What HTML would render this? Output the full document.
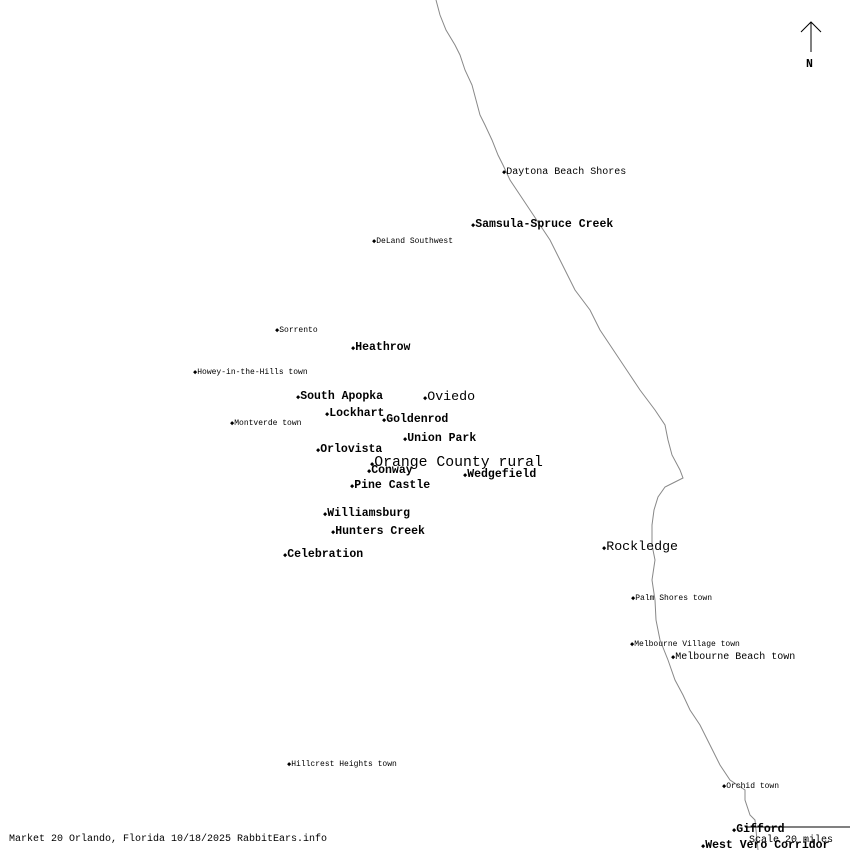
<!DOCTYPE html>
<html><head><meta charset="utf-8"><style>
html,body{margin:0;padding:0;background:#fff;}
svg{display:block}
text{font-family:"Liberation Mono","DejaVu Sans Mono",monospace;fill:#000}
.b{font-weight:bold;font-size:11.5px}
.s{font-size:8px}
.m{font-size:10px}
.l{font-size:13.3px}
.x{font-size:14.8px}
.d{font-size:7px;font-weight:normal}
</style></head><body>
<svg width="850" height="850" viewBox="0 0 850 850" xmlns="http://www.w3.org/2000/svg">
<polyline fill="none" stroke="#888" stroke-width="1" points="436,0 440,15 446,30 455,45 460,55 465,70 472,85 476,100 480,115 485,125 492,140 498,155 503,165 510,180 520,195 530,210 540,225 550,240 560,260 575,290 590,310 600,330 610,345 620,360 630,375 640,390 655,410 665,425 668,440 672,455 680,470 683,478 675,482 665,487 658,497 654,510 652,525 652,545 655,560 652,580 655,600 656,620 660,640 668,660 675,680 683,695 690,710 700,725 710,745 720,765 730,780 745,790 745,800 750,815 755,820 758,850"/>
<line x1="811" y1="22" x2="811" y2="52" stroke="#000"/>
<polyline points="801,32 811,22 821,32" fill="none" stroke="#000"/>
<text x="806" y="67" class="b">N</text>
<line x1="745" y1="827" x2="850" y2="827" stroke="#000"/>
<g>
<text x="502" y="174" class="m"><tspan class="d">◆</tspan>Daytona Beach Shores</text>
<text x="471" y="227" class="b"><tspan class="d">◆</tspan>Samsula-Spruce Creek</text>
<text x="372" y="243" class="s"><tspan class="d">◆</tspan>DeLand Southwest</text>
<text x="275" y="332" class="s"><tspan class="d">◆</tspan>Sorrento</text>
<text x="351" y="350" class="b"><tspan class="d">◆</tspan>Heathrow</text>
<text x="193" y="374" class="s"><tspan class="d">◆</tspan>Howey-in-the-Hills town</text>
<text x="296" y="399" class="b"><tspan class="d">◆</tspan>South Apopka</text>
<text x="423" y="400" class="l"><tspan class="d">◆</tspan>Oviedo</text>
<text x="325" y="416" class="b"><tspan class="d">◆</tspan>Lockhart</text>
<text x="382" y="422" class="b"><tspan class="d">◆</tspan>Goldenrod</text>
<text x="230" y="425" class="s"><tspan class="d">◆</tspan>Montverde town</text>
<text x="403" y="441" class="b"><tspan class="d">◆</tspan>Union Park</text>
<text x="316" y="452" class="b"><tspan class="d">◆</tspan>Orlovista</text>
<text x="370" y="466" class="x"><tspan class="d">◆</tspan>Orange County rural</text>
<text x="367" y="473" class="b"><tspan class="d">◆</tspan>Conway</text>
<text x="463" y="477" class="b"><tspan class="d">◆</tspan>Wedgefield</text>
<text x="350" y="488" class="b"><tspan class="d">◆</tspan>Pine Castle</text>
<text x="323" y="516" class="b"><tspan class="d">◆</tspan>Williamsburg</text>
<text x="331" y="534" class="b"><tspan class="d">◆</tspan>Hunters Creek</text>
<text x="602" y="550" class="l"><tspan class="d">◆</tspan>Rockledge</text>
<text x="283" y="557" class="b"><tspan class="d">◆</tspan>Celebration</text>
<text x="631" y="600" class="s"><tspan class="d">◆</tspan>Palm Shores town</text>
<text x="630" y="646" class="s"><tspan class="d">◆</tspan>Melbourne Village town</text>
<text x="671" y="659" class="m"><tspan class="d">◆</tspan>Melbourne Beach town</text>
<text x="287" y="766" class="s"><tspan class="d">◆</tspan>Hillcrest Heights town</text>
<text x="722" y="788" class="s"><tspan class="d">◆</tspan>Orchid town</text>
<text x="732" y="832" class="b"><tspan class="d">◆</tspan>Gifford</text>
<text x="749" y="842" class="m">Scale 20 miles</text>
<text x="701" y="848" class="b"><tspan class="d">◆</tspan>West Vero Corridor</text>
<text x="9" y="841" class="m">Market 20 Orlando, Florida 10/18/2025 RabbitEars.info</text>
</g>
</svg>
</body></html>
